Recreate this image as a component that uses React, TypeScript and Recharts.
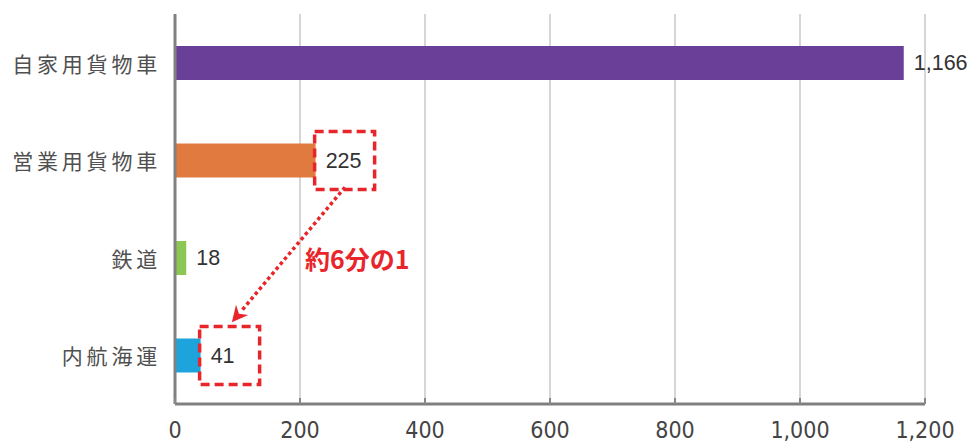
import React from "react";
import {
  BarChart,
  Bar,
  XAxis,
  YAxis,
  CartesianGrid,
  Cell,
  LabelList,
  ReferenceLine,
} from "recharts";

const categories = ["自家用貨物車", "営業用貨物車", "鉄道", "内航海運"];
const values = [1166, 225, 18, 41];
const colors = ["#6A3F98", "#E07A3E", "#8CC653", "#1DA4DD"];
const highlighted = [false, true, false, true];
const xTicks = [0, 200, 400, 600, 800, 1000, 1200];
const arrowFrom = { x: 272, y: "営業用貨物車" };
const arrowTo = { x: 91, y: "内航海運" };
const annotationText = "約6分の1";

const data = categories.map((name, i) => ({
  name,
  value: values[i],
  color: colors[i],
  highlight: highlighted[i],
}));

const RED = "#E8252B";

const fmt = (v: number) => v.toLocaleString("en-US");

const CategoryTick = (props: any) => {
  const { x, y, payload } = props;
  return (
    <text
      x={x - 6}
      y={y}
      textAnchor="end"
      dominantBaseline="central"
      fontFamily="'Noto Sans CJK JP', sans-serif"
      fontSize={21}
      letterSpacing={3.8}
      fill="#505050"
    >
      {payload.value}
    </text>
  );
};

const NumberTick = (props: any) => {
  const { x, y, payload } = props;
  return (
    <g>
      <line x1={x} x2={x} y1={y - 8} y2={y - 14} stroke="#888" strokeWidth={2} />
      <text
        x={x}
        y={y + 18}
        textAnchor="middle"
        dominantBaseline="central"
        fontFamily="'Liberation Sans Narrow', 'DejaVu Sans Condensed', 'Roboto Condensed', sans-serif"
        fontSize={23}
        fill="#444"
      >
        {fmt(payload.value)}
      </text>
    </g>
  );
};

const ValueLabel = (props: any) => {
  const { x, y, width, height, value, index } = props;
  const end = x + width;
  const cy = y + height / 2;
  const hl = data[index]?.highlight;
  return (
    <g>
      {hl && (
        <rect
          x={end - 1}
          y={cy - 29}
          width={60}
          height={58}
          fill="none"
          stroke={RED}
          strokeWidth={3.5}
          strokeDasharray="9 5"
        />
      )}
      <text
        x={end + 10}
        y={cy}
        dominantBaseline="central"
        fontFamily="'Liberation Sans', Arial, sans-serif"
        fontSize={21.5}
        fill="#333"
      >
        {fmt(value)}
      </text>
    </g>
  );
};

const ArrowShape = (props: any) => {
  const { x1, y1, x2, y2 } = props;
  const sy = y1 + 27;
  const ey = y2 - 33;
  const dx = x2 - x1;
  const dy = ey - sy;
  const len = Math.sqrt(dx * dx + dy * dy);
  const ux = dx / len;
  const uy = dy / len;
  const headLen = 16;
  const headW = 8;
  const bx = x2 - ux * headLen;
  const by = ey - uy * headLen;
  const px = -uy;
  const py = ux;
  return (
    <g>
      <line
        x1={x1}
        y1={sy}
        x2={bx + ux * 2}
        y2={by + uy * 2}
        stroke={RED}
        strokeWidth={3.5}
        strokeDasharray="3.5 3"
      />
      <polygon
        points={`${x2},${ey} ${bx + px * headW},${by + py * headW} ${bx + ux * 5},${by + uy * 5} ${bx - px * headW},${by - py * headW}`}
        fill={RED}
      />
      <text
        x={x1 - 40}
        y={(y1 + y2) / 2}
        dominantBaseline="central"
        fontFamily="'Noto Sans CJK JP', sans-serif"
        fontWeight={600}
        fontSize={25}
        fill={RED}
      >
        {annotationText}
      </text>
    </g>
  );
};

export default function App() {
  return (
    <div style={{ position: "absolute", left: 0, top: 0, background: "#fff" }}>
      <BarChart
        width={975}
        height={442}
        data={data}
        layout="vertical"
        margin={{ top: 14, right: 50, bottom: 8, left: 0 }}
        barCategoryGap={0}
      >
        <CartesianGrid horizontal={false} stroke="#c8c8c8" strokeWidth={1.5} />
        <XAxis
          type="number"
          domain={[0, 1200]}
          ticks={xTicks}
          interval={0}
          height={30}
          axisLine={{ stroke: "#808080", strokeWidth: 3 }}
          tickLine={false}
          tick={<NumberTick />}
        />
        <YAxis
          type="category"
          dataKey="name"
          width={175}
          axisLine={{ stroke: "#808080", strokeWidth: 3 }}
          tickLine={false}
          tick={<CategoryTick />}
        />
        <Bar dataKey="value" barSize={34} isAnimationActive={false}>
          {data.map((d, i) => (
            <Cell key={i} fill={d.color} />
          ))}
          <LabelList dataKey="value" content={<ValueLabel />} />
        </Bar>
        <ReferenceLine
          segment={[arrowFrom, arrowTo]}
          stroke={RED}
          shape={<ArrowShape />}
        />
      </BarChart>
    </div>
  );
}
